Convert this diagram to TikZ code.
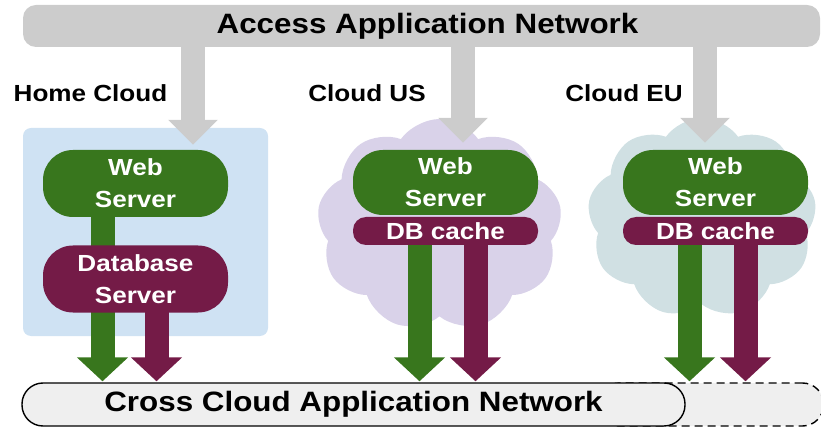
\documentclass[tikz,border=0pt]{standalone}
\usepackage{fontspec}
\newfontfamily\labfont{Liberation Sans}[FakeStretch=1.12]
\usetikzlibrary{shapes.symbols,arrows.meta}
\definecolor{barGray}{HTML}{CCCCCC}
\definecolor{webGreen}{HTML}{38761D}
\definecolor{dbPurple}{HTML}{741B47}
\definecolor{homeBlue}{HTML}{CFE2F3}
\definecolor{usLav}{HTML}{D9D2E9}
\definecolor{euTeal}{HTML}{D0E0E3}
\definecolor{bandFill}{HTML}{EFEFEF}
\pgfdeclarelayer{bg}
\pgfdeclarelayer{arr}
\pgfsetlayers{bg,arr,main}
\begin{document}
\begin{tikzpicture}[x=1pt,y=-1pt,
  bigtxt/.style={font=\labfont\bfseries\fontsize{28}{32}\selectfont},
  labtxt/.style={font=\labfont\bfseries\fontsize{23.3}{32}\selectfont},
  pill/.style={labtxt,text=white,inner sep=0pt,minimum width=185pt,align=center},
  webpill/.style={pill,fill=webGreen,minimum height=65pt,rounded corners=30pt},
  dbpill/.style={pill,fill=dbPurple,minimum height=67pt,rounded corners=30pt},
  cachepill/.style={pill,fill=dbPurple,minimum height=28pt,rounded corners=13pt},
  cloudbg/.style={cloud,cloud puffs=9,cloud puff arc=110,inner sep=0pt,draw=none},
  grayarrow/.style={draw=barGray,line width=24pt,-{Triangle[length=25pt,width=48pt]}},
  greenarrow/.style={draw=webGreen,line width=24pt,-{Triangle[length=24pt,width=50pt]}},
  purplearrow/.style={draw=dbPurple,line width=24pt,-{Triangle[length=24pt,width=50pt]}},
  band/.style={bigtxt,rounded corners=21pt,fill=bandFill,line width=1.4pt,minimum height=43pt,inner sep=0pt}
]
\useasboundingbox (0,0) rectangle (821,427);
\clip (0,0) rectangle (821,427);

% top bar
\node[bigtxt,fill=barGray,rounded corners=13pt,minimum width=797pt,minimum height=42pt,inner sep=0pt] (bar) at (421.5,26) {\hspace*{12pt}Access Application Network};

% cloud labels
\node[labtxt] (lhome) at (90.5,93) {Home Cloud};
\node[labtxt] (lus) at (367,93) {Cloud US};
\node[labtxt] (leu) at (624,93) {Cloud EU};

% bottom band
\node[band,draw,dashed,dash pattern=on 8pt off 5pt,minimum width=225pt] (ext) at (711,404.5) {};
\node[band,draw,minimum width=663pt] (cross) at (353.5,404.5) {Cross Cloud Application Network};

% servers
\node[webpill,minimum height=67pt] (ws1) at (135.5,183.5) {Web\\Server};
\node[dbpill] (db1) at (135.5,279) {Database\\Server};
\node[webpill] (ws2) at (445.5,182.5) {Web\\Server};
\node[cachepill] (dc2) at (445.5,231) {DB cache};
\node[webpill] (ws3) at (715.5,182.5) {Web\\Server};
\node[cachepill] (dc3) at (715.5,231) {DB cache};

% backgrounds
\begin{pgfonlayer}{bg}
  \node[fill=homeBlue,rounded corners=8pt,minimum width=245pt,minimum height=208pt,inner sep=0pt] (home) at (145.5,232) {};
  \node[cloudbg,fill=usLav,minimum width=245pt,minimum height=212pt] (cus) at (439.5,225) {};
  \node[cloudbg,fill=euTeal,minimum width=229pt,minimum height=200pt] (ceu) at (702,218) {};
\end{pgfonlayer}

% arrows
\coordinate (g1) at (193,0);
\coordinate (g2) at (463,0);
\coordinate (g3) at (705,0);
\coordinate (a1) at (102.5,0);
\coordinate (b1) at (156.5,0);
\coordinate (a2) at (419.5,0);
\coordinate (b2) at (475.5,0);
\coordinate (a3) at (689.5,0);
\coordinate (b3) at (745.5,0);
\begin{pgfonlayer}{arr}
  \draw[grayarrow,shorten <=-4pt,shorten >=5pt] (bar.south -| g1) -- (ws1.north -| g1);
  \draw[grayarrow,shorten <=-4pt,shorten >=7pt] (bar.south -| g2) -- (ws2.north -| g2);
  \draw[grayarrow,shorten <=-4pt,shorten >=7pt] (bar.south -| g3) -- (ws3.north -| g3);
  \draw[greenarrow,shorten <=-6pt,shorten >=1pt] (ws1.south -| a1) -- (cross.north -| a1);
  \draw[purplearrow,shorten <=-6pt,shorten >=1pt] (db1.south -| b1) -- (cross.north -| b1);
  \draw[greenarrow,shorten <=-6pt,shorten >=1pt] (dc2.south -| a2) -- (cross.north -| a2);
  \draw[purplearrow,shorten <=-6pt,shorten >=1pt] (dc2.south -| b2) -- (cross.north -| b2);
  \draw[greenarrow,shorten <=-6pt,shorten >=1pt] (dc3.south -| a3) -- (ext.north -| a3);
  \draw[purplearrow,shorten <=-6pt,shorten >=1pt] (dc3.south -| b3) -- (ext.north -| b3);
\end{pgfonlayer}
\end{tikzpicture}
\end{document}
